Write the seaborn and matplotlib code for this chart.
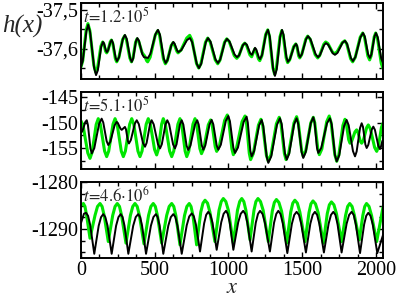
import numpy as np
import pandas as pd
import matplotlib
matplotlib.use("Agg")
import matplotlib.pyplot as plt
import seaborn as sns
from matplotlib.ticker import FixedLocator, FuncFormatter, MultipleLocator

# ---------------- data ----------------
x1_black = [0, 12, 37, 49, 62, 89, 102, 114, 137, 149, 156, 169, 176, 184, 200, 208, 217, 235, 244, 258, 284, 298,
            310, 333, 344, 354, 372, 382, 393, 416, 427, 454, 471, 505, 522, 535, 561, 574, 587, 613, 626, 634, 652,
            660, 680, 719, 739, 754, 785, 800, 815, 846, 861, 878, 912, 929, 944, 975, 990, 1007, 1041, 1058, 1072,
            1098, 1112, 1124, 1147, 1159, 1180, 1188, 1206, 1214, 1228, 1254, 1268, 1280, 1303, 1315, 1327, 1351,
            1363, 1373, 1393, 1403, 1417, 1444, 1458, 1465, 1478, 1485, 1498, 1526, 1539, 1556, 1590, 1607, 1620,
            1648, 1661, 1676, 1707, 1722, 1739, 1773, 1790, 1804, 1830, 1844, 1861, 1895, 1912, 1924, 1947, 1959,
            1969, 1990, 2000, 2012, 2036, 2048]
y1_black = [-37.646, -37.630, -37.554, -37.538, -37.557, -37.648, -37.667, -37.655, -37.594, -37.582, -37.586,
            -37.604, -37.608, -37.603, -37.582, -37.577, -37.585, -37.623, -37.631, -37.621, -37.574, -37.564,
            -37.574, -37.623, -37.633, -37.624, -37.581, -37.572, -37.579, -37.614, -37.621, -37.623, -37.612,
            -37.562, -37.551, -37.563, -37.624, -37.636, -37.628, -37.590, -37.582, -37.586, -37.604, -37.608,
            -37.603, -37.577, -37.572, -37.583, -37.638, -37.649, -37.638, -37.583, -37.572, -37.581, -37.627,
            -37.636, -37.627, -37.583, -37.574, -37.581, -37.614, -37.621, -37.616, -37.590, -37.585, -37.589,
            -37.611, -37.615, -37.597, -37.601, -37.622, -37.626, -37.615, -37.562, -37.551, -37.568, -37.652,
            -37.669, -37.652, -37.568, -37.551, -37.563, -37.621, -37.633, -37.626, -37.594, -37.587, -37.592,
            -37.616, -37.621, -37.613, -37.575, -37.567, -37.575, -37.613, -37.621, -37.616, -37.590, -37.585,
            -37.589, -37.611, -37.615, -37.610, -37.584, -37.579, -37.587, -37.623, -37.631, -37.620, -37.570,
            -37.559, -37.568, -37.614, -37.623, -37.614, -37.568, -37.559, -37.570, -37.625, -37.636]
x1_green = [0, 12, 35, 47, 60, 87, 100, 112, 135, 147, 154, 167, 174, 182, 198, 206, 215, 233, 242, 256, 282, 296,
            308, 331, 342, 352, 370, 380, 391, 414, 425, 432, 445, 452, 469, 503, 520, 533, 559, 572, 585, 611, 624,
            632, 650, 658, 678, 717, 737, 752, 783, 798, 813, 844, 859, 876, 910, 927, 942, 973, 988, 1005, 1039,
            1056, 1070, 1096, 1110, 1122, 1145, 1157, 1178, 1186, 1204, 1212, 1226, 1252, 1266, 1278, 1301, 1313,
            1325, 1349, 1361, 1371, 1391, 1401, 1415, 1442, 1456, 1463, 1476, 1483, 1496, 1524, 1537, 1554, 1588,
            1605, 1618, 1646, 1659, 1674, 1705, 1720, 1737, 1771, 1788, 1802, 1828, 1842, 1859, 1893, 1910, 1922,
            1945, 1957, 1967, 1988, 1998, 2010, 2036, 2048]
y1_green = [-37.646, -37.630, -37.551, -37.535, -37.553, -37.642, -37.660, -37.649, -37.593, -37.582, -37.586,
            -37.606, -37.610, -37.605, -37.582, -37.577, -37.585, -37.625, -37.633, -37.623, -37.576, -37.566,
            -37.576, -37.623, -37.633, -37.624, -37.583, -37.574, -37.580, -37.609, -37.615, -37.618, -37.630,
            -37.633, -37.621, -37.565, -37.553, -37.565, -37.626, -37.638, -37.630, -37.592, -37.584, -37.588,
            -37.606, -37.610, -37.603, -37.572, -37.565, -37.577, -37.637, -37.649, -37.638, -37.583, -37.572,
            -37.582, -37.628, -37.638, -37.629, -37.583, -37.574, -37.581, -37.617, -37.624, -37.618, -37.591,
            -37.585, -37.590, -37.615, -37.620, -37.600, -37.604, -37.626, -37.630, -37.618, -37.563, -37.551,
            -37.568, -37.648, -37.665, -37.649, -37.569, -37.553, -37.565, -37.623, -37.635, -37.628, -37.594,
            -37.587, -37.592, -37.618, -37.623, -37.615, -37.575, -37.567, -37.575, -37.615, -37.623, -37.617,
            -37.588, -37.582, -37.586, -37.608, -37.612, -37.607, -37.584, -37.579, -37.587, -37.625, -37.633,
            -37.622, -37.570, -37.559, -37.569, -37.618, -37.628, -37.618, -37.569, -37.559, -37.572, -37.637,
            -37.650]

x2_black = [0, 10, 29, 39, 47, 64, 73, 90, 123, 140, 151, 174, 185, 199, 228, 242, 250, 268, 276, 298, 305, 318,
            325, 338, 365, 378, 392, 420, 434, 445, 468, 479, 493, 522, 536, 548, 573, 585, 598, 624, 637, 648, 671,
            683, 694, 716, 727, 742, 773, 788, 798, 819, 829, 843, 872, 886, 897, 920, 931, 948, 982, 999, 1010,
            1033, 1044, 1064, 1103, 1123, 1131, 1148, 1157, 1174, 1208, 1225, 1236, 1259, 1270, 1290, 1329, 1349,
            1361, 1383, 1395, 1412, 1445, 1462, 1473, 1496, 1507, 1524, 1558, 1575, 1584, 1600, 1609, 1629, 1668,
            1688, 1700, 1722, 1734, 1751, 1784, 1801, 1815, 1844, 1858, 1869, 1892, 1903, 1912, 1928, 1937, 1948,
            1971, 1982, 1993, 2016, 2027, 2032, 2043, 2048]
y2_black = [-152.00, -151.64, -149.89, -149.53, -150.48, -155.08, -156.03, -155.04, -150.21, -149.22, -149.98,
            -153.64, -154.40, -153.74, -150.52, -149.86, -150.09, -151.19, -151.42, -150.84, -151.31, -153.62,
            -154.09, -153.42, -150.20, -149.53, -150.29, -153.97, -154.73, -153.97, -150.29, -149.53, -150.34,
            -154.25, -155.06, -154.25, -150.34, -149.53, -150.34, -154.25, -155.06, -154.25, -150.34, -149.53,
            -150.38, -154.52, -155.37, -154.52, -150.38, -149.53, -150.37, -154.47, -155.31, -154.46, -150.32,
            -149.47, -150.32, -154.46, -155.31, -154.35, -149.66, -148.70, -149.76, -154.89, -155.95, -154.91,
            -149.87, -148.83, -149.97, -155.48, -156.62, -155.58, -150.51, -149.47, -150.70, -156.67, -157.90,
            -156.62, -150.42, -149.14, -150.33, -156.07, -157.26, -156.07, -150.33, -149.14, -150.28, -155.79,
            -156.93, -155.76, -150.11, -148.95, -149.97, -154.93, -155.95, -154.96, -150.13, -149.14, -150.37,
            -156.36, -157.59, -156.40, -150.66, -149.47, -150.51, -155.58, -156.62, -155.67, -151.07, -150.12,
            -150.83, -154.27, -154.98, -154.37, -151.39, -150.78, -151.42, -154.54, -155.18, -154.92, -153.63,
            -153.37]
x2_green = [0, 15, 46, 61, 75, 103, 117, 131, 160, 174, 188, 217, 231, 245, 273, 287, 301, 330, 344, 358, 386, 400,
            414, 442, 456, 470, 499, 513, 524, 547, 558, 572, 601, 615, 629, 657, 671, 683, 706, 717, 731, 759, 773,
            784, 806, 817, 832, 863, 879, 889, 910, 920, 938, 974, 992, 1002, 1023, 1033, 1053, 1092, 1112, 1122,
            1141, 1150, 1168, 1203, 1220, 1232, 1257, 1270, 1288, 1325, 1344, 1356, 1379, 1390, 1408, 1444, 1462,
            1473, 1496, 1507, 1524, 1558, 1575, 1585, 1606, 1616, 1633, 1666, 1683, 1696, 1721, 1734, 1748, 1776,
            1790, 1798, 1815, 1824, 1835, 1858, 1869, 1877, 1894, 1903, 1914, 1937, 1948, 1962, 1991, 2005, 2016,
            2037, 2048]
y2_green = [-149.67, -150.74, -155.94, -157.01, -155.87, -150.36, -149.22, -150.31, -155.58, -156.67, -155.58,
            -150.31, -149.22, -150.31, -155.58, -156.67, -155.58, -150.31, -149.22, -150.31, -155.58, -156.67,
            -155.58, -150.31, -149.22, -150.26, -155.30, -156.34, -155.30, -150.26, -149.22, -150.31, -155.58,
            -156.67, -155.58, -150.31, -149.22, -150.31, -155.58, -156.67, -155.58, -150.31, -149.22, -150.22,
            -155.09, -156.09, -155.12, -150.44, -149.47, -150.37, -154.74, -155.64, -154.60, -149.54, -148.50,
            -149.64, -155.15, -156.29, -155.18, -149.81, -148.70, -149.95, -156.01, -157.26, -156.10, -150.50,
            -149.34, -150.54, -156.39, -157.59, -156.33, -150.21, -148.95, -150.16, -156.05, -157.26, -156.03,
            -150.06, -148.83, -149.97, -155.48, -156.62, -155.50, -150.07, -148.95, -150.02, -155.22, -156.29,
            -155.18, -149.81, -148.70, -150.00, -156.29, -157.59, -156.39, -150.54, -149.34, -150.03, -153.35,
            -154.04, -153.66, -151.80, -151.42, -151.80, -153.66, -154.04, -153.52, -150.97, -150.45, -151.21,
            -154.88, -155.64, -154.83, -150.93, -150.12]

x3_black = [0, 20, 34, 48, 62, 90, 120, 136, 151, 165, 180, 208, 238, 254, 269, 282, 295, 321, 354, 371, 388, 401,
            414, 441, 474, 491, 508, 520, 533, 558, 592, 609, 626, 640, 654, 683, 717, 734, 751, 765, 779, 807, 835,
            849, 863, 877, 891, 920, 951, 967, 983, 995, 1008, 1033, 1066, 1083, 1100, 1114, 1128, 1157, 1185, 1200,
            1214, 1231, 1247, 1281, 1309, 1324, 1338, 1353, 1368, 1399, 1430, 1446, 1462, 1478, 1493, 1525, 1555,
            1571, 1586, 1601, 1616, 1647, 1679, 1695, 1711, 1725, 1739, 1767, 1801, 1818, 1835, 1849, 1863, 1892,
            1920, 1934, 1948, 1963, 1978, 2009, 2048]
y3_black = [-1288.73, -1286.75, -1286.55, -1287.20, -1289.10, -1295.29,
            -1289.30, -1287.47, -1286.83, -1287.47, -1289.30, -1295.29,
            -1289.30, -1287.47, -1286.83, -1287.47, -1289.30, -1295.29,
            -1289.30, -1287.47, -1286.83, -1287.47, -1289.30, -1295.29,
            -1289.30, -1287.47, -1286.83, -1287.47, -1289.30, -1295.29,
            -1289.30, -1287.47, -1286.83, -1287.47, -1289.30, -1295.29,
            -1289.20, -1287.33, -1286.68, -1287.30, -1289.00, -1294.80,
            -1288.80, -1286.98, -1286.34, -1286.96, -1288.60, -1294.44,
            -1288.56, -1286.76, -1286.13, -1286.76, -1288.56, -1294.44,
            -1288.56, -1286.76, -1286.13, -1286.80, -1288.67, -1294.80,
            -1288.67, -1286.80, -1286.13, -1286.80, -1288.67, -1294.80,
            -1288.67, -1286.80, -1286.13, -1286.82, -1288.77, -1295.14,
            -1288.88, -1287.00, -1286.34, -1287.00, -1288.88, -1295.01,
            -1288.88, -1287.00, -1286.34, -1287.00, -1288.88, -1295.01,
            -1288.88, -1287.00, -1286.34, -1287.00, -1288.88, -1295.01,
            -1288.88, -1287.00, -1286.34, -1287.00, -1288.92, -1295.14,
            -1289.00, -1287.20, -1286.55, -1287.20, -1289.00, -1295.14,
            -1291.27]
x3_green = [0, 16, 27, 38, 61, 95, 112, 129, 143, 157, 185, 215, 231, 246, 261, 275, 305, 335, 351, 366, 381, 396,
            427, 458, 474, 490, 504, 518, 547, 581, 598, 615, 629, 643, 671, 702, 718, 734, 746, 759, 784, 812, 827,
            841, 858, 874, 908, 936, 951, 965, 982, 999, 1033, 1061, 1076, 1090, 1104, 1118, 1146, 1173, 1186, 1200,
            1217, 1235, 1270, 1297, 1311, 1325, 1342, 1360, 1395, 1422, 1436, 1450, 1467, 1484, 1519, 1546, 1559,
            1573, 1590, 1608, 1643, 1670, 1684, 1698, 1715, 1732, 1767, 1794, 1808, 1822, 1838, 1854, 1887, 1911,
            1924, 1936, 1953, 1970, 2005, 2048]
y3_green = [-1285.00, -1284.57, -1285.20, -1287.10, -1291.97,
            -1287.10, -1285.20, -1284.57, -1285.20, -1287.10, -1292.68,
            -1287.10, -1285.20, -1284.57, -1285.20, -1287.10, -1293.02,
            -1287.10, -1285.20, -1284.57, -1285.20, -1287.10, -1293.17,
            -1287.10, -1285.20, -1284.57, -1285.20, -1287.10, -1293.02,
            -1287.10, -1285.20, -1284.57, -1285.20, -1287.10, -1293.38,
            -1287.10, -1285.20, -1284.57, -1285.20, -1287.10, -1293.38,
            -1286.40, -1284.50, -1283.87, -1284.50, -1286.40, -1292.68,
            -1286.00, -1284.15, -1283.51, -1284.15, -1286.00, -1293.02,
            -1286.00, -1284.15, -1283.51, -1284.15, -1286.00, -1292.33,
            -1286.00, -1284.15, -1283.51, -1284.15, -1286.00, -1292.68,
            -1286.20, -1284.35, -1283.72, -1284.35, -1286.20, -1293.02,
            -1286.40, -1284.50, -1283.87, -1284.50, -1286.40, -1292.68,
            -1286.50, -1284.65, -1284.02, -1284.65, -1286.50, -1293.02,
            -1286.70, -1284.85, -1284.23, -1284.85, -1286.70, -1292.68,
            -1287.10, -1285.20, -1284.57, -1285.20, -1287.10, -1292.33,
            -1287.10, -1285.20, -1284.57, -1285.20, -1287.10, -1292.68,
            -1285.29]

panel_labels = [r"$\mathit{t\!=\!1.2{\cdot}10^{5}}$", r"$\mathit{t\!=\!5.1{\cdot}10^{5}}$",
                r"$\mathit{t\!=\!4.6{\cdot}10^{6}}$"]
y_ticks = [[-37.5, -37.6], [-145, -150, -155], [-1280, -1290]]
y_minor = [0.05, 2.5, 2.5]
y_lims = [(-37.677, -37.482), (-159.1, -144.0), (-1296.2, -1280.0)]
x_ticks = [0, 500, 1000, 1500, 2000]

# ---------------- style ----------------
sns.set_style("ticks")
plt.rcParams["font.family"] = ["Liberation Serif", "DejaVu Serif"]
plt.rcParams["mathtext.fontset"] = "stix"
plt.rcParams["axes.unicode_minus"] = False

GREEN = "#00e600"

fig = plt.figure(figsize=(3.99, 2.97), dpi=100)
positions = [[0.203, 0.734, 0.757, 0.256],
             [0.203, 0.431, 0.757, 0.259],
             [0.203, 0.131, 0.757, 0.256]]

data = [(x1_black, y1_black, x1_green, y1_green),
        (x2_black, y2_black, x2_green, y2_green),
        (x3_black, y3_black, x3_green, y3_green)]

fmt = FuncFormatter(lambda v, p: (f"{v:g}").replace(".", ","))

for i, (xb, yb, xg, yg) in enumerate(data):
    assert len(xb) == len(yb) and len(xg) == len(yg)
    ax = fig.add_axes(positions[i])
    dg = pd.DataFrame({"x": xg, "h": yg})
    db = pd.DataFrame({"x": xb, "h": yb})
    sns.lineplot(data=dg, x="x", y="h", ax=ax, color=GREEN, lw=2.2, sort=False, estimator=None,
                 solid_joinstyle="round")
    sns.lineplot(data=db, x="x", y="h", ax=ax, color="black", lw=1.4, sort=False, estimator=None,
                 solid_joinstyle="round")
    ax.set_xlim(0, 2048)
    ax.set_ylim(*y_lims[i])
    ax.set_xlabel("")
    ax.set_ylabel("")
    ax.xaxis.set_major_locator(FixedLocator(x_ticks))
    ax.xaxis.set_minor_locator(MultipleLocator(125))
    ax.yaxis.set_major_locator(FixedLocator(y_ticks[i]))
    ax.yaxis.set_minor_locator(MultipleLocator(y_minor[i]))
    ax.yaxis.set_major_formatter(fmt)
    ax.tick_params(which="both", direction="in", top=True, right=True, width=1.0, colors="black")
    ax.tick_params(which="major", length=4.5, labelsize=14.5, pad=2)
    ax.tick_params(which="minor", length=3)
    ax.tick_params(axis="x", which="major", pad=2)
    for s in ax.spines.values():
        s.set_linewidth(1.4)
        s.set_color("black")
    if i < 2:
        ax.tick_params(axis="x", labelbottom=False)
    ax.text(0.006, 1 - 19.5 / 76, panel_labels[i], transform=ax.transAxes, fontsize=12,
            ha="left", va="baseline")

fig.text(232 / 399, 1 - 293 / 297, r"$x$", fontsize=16, ha="center", va="baseline")
fig.text(0.005, 1 - 26 / 297, "h(x)", fontstyle="italic", fontsize=18, ha="left", va="center")

fig.savefig("out.png", dpi=100)
